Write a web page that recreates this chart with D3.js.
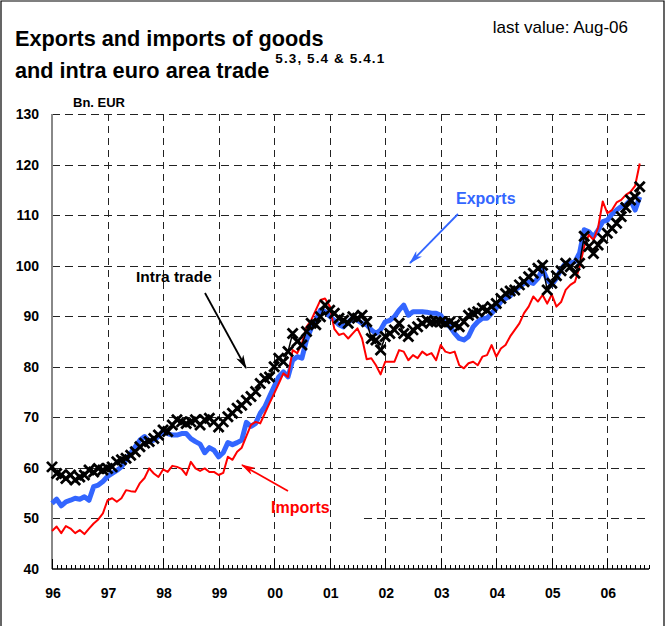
<!DOCTYPE html>
<html>
<head>
<meta charset="utf-8">
<script src="https://cdn.jsdelivr.net/npm/d3@7"></script>
<style>
  body { margin: 0; background: #fff; }
  text { font-family: Arial, 'Liberation Sans', sans-serif; }
</style>
</head>
<body>
<script>
// monthly values, Jan 1996 .. Aug 2006, Bn. EUR
const yearLabels = ['96', '97', '98', '99', '00', '01', '02', '03', '04', '05', '06']
const yTicks = [40, 50, 60, 70, 80, 90, 100, 110, 120, 130]

const exportsBn = [
  53.0, 53.8, 52.5, 53.3, 53.6, 54.0, 53.8, 54.3, 53.6, 56.3, 56.6, 57.3,
  58.3, 58.9, 59.5, 60.2, 61.6, 62.9, 64.2, 65.5, 66.2, 65.2, 65.5, 66.2,
  67.2, 66.8, 66.5, 66.5, 66.8, 66.8, 65.8, 65.2, 64.7, 63.0, 64.0, 63.5,
  62.2, 63.0, 65.0, 64.6, 65.0, 65.5, 69.0, 68.2, 68.8, 70.8, 72.1, 74.1,
  76.1, 78.0, 79.0, 78.0, 81.3, 82.0, 81.7, 85.3, 87.6, 89.2, 91.2, 90.9,
  90.0, 89.2, 88.3, 87.9, 88.8, 89.6, 89.2, 88.6, 88.3, 87.3, 86.6, 87.3,
  88.9, 89.2, 89.9, 91.2, 92.2, 90.2, 90.9, 90.9, 90.9, 90.8, 90.6, 90.6,
  90.2, 88.6, 87.9, 86.6, 85.6, 85.3, 86.0, 87.9, 88.9, 89.6, 89.6, 90.6,
  91.6, 92.9, 93.5, 94.0, 95.2, 95.8, 96.5, 96.8, 96.5, 97.5, 99.3, 97.2,
  96.2, 97.5, 99.3, 100.5, 100.5, 100.8, 102.5, 107.1, 106.7, 105.7, 107.0, 108.7,
  109.0, 110.2, 111.0, 111.7, 112.0, 113.0, 111.0, 113.6
]

const importsBn = [
  47.5, 48.4, 47.1, 48.5, 48.0, 47.1, 47.7, 46.9, 48.0, 49.0, 49.8, 51.0,
  53.6, 54.0, 53.3, 54.0, 55.6, 55.4, 55.3, 57.0, 58.0, 59.9, 58.9, 58.2,
  59.7, 59.2, 60.4, 60.2, 59.8, 58.6, 61.2, 59.9, 59.4, 59.9, 59.2, 59.2,
  58.6, 59.0, 62.2, 61.6, 63.2, 64.0, 66.3, 68.5, 69.1, 68.8, 70.8, 72.8,
  74.7, 76.7, 78.7, 78.0, 83.3, 82.7, 84.6, 87.9, 89.2, 91.2, 93.2, 93.5,
  92.0, 87.5, 86.3, 86.6, 85.6, 86.6, 87.6, 85.6, 81.5, 81.7, 80.3, 78.5,
  81.0, 81.0, 81.0, 83.3, 83.0, 81.3, 82.3, 81.7, 83.0, 82.3, 82.7, 81.3,
  84.3, 83.0, 82.7, 83.0, 80.3, 79.7, 80.7, 81.0, 80.3, 82.0, 82.3, 84.3,
  82.0, 83.6, 84.3, 86.0, 87.3, 88.6, 90.6, 91.9, 93.9, 92.9, 94.2, 92.5,
  94.3, 91.9, 92.8, 95.2, 96.2, 96.8, 99.8, 103.8, 106.1, 105.1, 107.5, 112.7,
  110.4, 111.0, 112.5, 113.0, 114.0, 114.6, 115.8, 120.2
]

const intraBn = [
  60.2, 58.9, 58.6, 57.9, 58.6, 57.6, 58.2, 58.6, 59.6, 59.2, 59.9, 59.6,
  59.9, 60.2, 61.2, 61.6, 61.9, 62.5, 63.2, 64.2, 64.9, 65.2, 65.8, 66.5,
  67.5, 67.2, 68.5, 69.5, 69.1, 68.8, 69.1, 69.5, 68.5, 69.5, 69.8, 69.1,
  68.1, 69.1, 70.1, 70.8, 71.8, 72.4, 73.4, 74.1, 75.1, 76.7, 77.7, 78.0,
  80.0, 81.7, 81.0, 83.0, 86.6, 85.0, 84.3, 87.0, 88.6, 88.3, 89.9, 92.2,
  91.2, 90.6, 89.6, 89.2, 88.6, 89.9, 89.6, 90.2, 88.9, 85.6, 85.3, 83.3,
  86.0, 86.6, 87.3, 88.6, 86.6, 86.0, 87.3, 87.9, 88.6, 89.2, 88.9, 88.9,
  88.9, 88.6, 88.9, 88.3, 87.9, 88.9, 90.2, 90.6, 90.9, 91.6, 91.2, 91.9,
  92.5, 93.5, 94.5, 95.0, 95.2, 96.2, 96.8, 97.8, 98.5, 99.5, 100.1, 95.2,
  96.5, 98.0, 99.0, 100.5, 99.8, 98.5, 100.5, 105.8, 103.8, 102.4, 104.1, 105.4,
  106.4, 107.4, 108.4, 109.7, 111.5, 113.0, 113.6, 115.6
]

const width = 667
const height = 626
const blue = '#3366ff'
const red = '#ff0000'

const svg = d3.select('body').append('svg')
  .attr('width', width)
  .attr('height', height)

// frame
svg.append('path')
  .attr('d', 'M1,' + height + 'V1H664V' + height)
  .attr('fill', 'none')
  .attr('stroke', '#000')
  .attr('stroke-width', 1.2)

const x = d3.scaleLinear().domain([0, 129]).range([52, 649])
const y = d3.scaleLinear().domain([40, 130]).range([569, 114])
const months = d3.range(0, 130)
const px = v => Math.round(v) + 0.5

// titles
svg.append('text').attr('x', 15).attr('y', 46)
  .attr('font-size', 21.7).attr('font-weight', 'bold')
  .text('Exports and imports of goods')
const t2 = svg.append('text').attr('x', 15).attr('y', 78)
  .attr('font-size', 21.7).attr('font-weight', 'bold')
t2.append('tspan').text('and intra euro area trade ')
t2.append('tspan').attr('dy', -15).attr('font-size', 13.5)
  .attr('letter-spacing', 1.1).text('5.3, 5.4 & 5.4.1')

svg.append('text').attr('x', 628).attr('y', 33)
  .attr('text-anchor', 'end').attr('font-size', 17)
  .text('last value: Aug-06')

svg.append('text').attr('x', 73).attr('y', 107)
  .attr('font-size', 13).attr('font-weight', 'bold')
  .text('Bn. EUR')

// horizontal grid
svg.append('g').selectAll('line')
  .data(yTicks.filter(d => d > 40))
  .join('line')
  .attr('x1', x(0)).attr('x2', 646)
  .attr('y1', d => px(y(d))).attr('y2', d => px(y(d)))
  .attr('stroke', '#222').attr('stroke-width', 1)
  .attr('stroke-dasharray', '8,5')

// the 50 line is cut behind the imports label
svg.append('rect')
  .attr('x', 240).attr('y', y(50) - 2)
  .attr('width', 122).attr('height', 4)
  .attr('fill', '#fff')

// vertical grid at each January
svg.append('g').selectAll('line')
  .data(yearLabels.slice(1))
  .join('line')
  .attr('x1', (d, i) => px(x((i + 1) * 12))).attr('x2', (d, i) => px(x((i + 1) * 12)))
  .attr('y1', y(130)).attr('y2', y(40))
  .attr('stroke', '#222').attr('stroke-width', 1)
  .attr('stroke-dasharray', '7,5')

// y axis
svg.append('line')
  .attr('x1', x(0)).attr('x2', x(0))
  .attr('y1', y(130)).attr('y2', y(40))
  .attr('stroke', '#888').attr('stroke-width', 2)

svg.append('g').selectAll('text')
  .data(yTicks)
  .join('text')
  .attr('x', 39).attr('y', d => y(d) + 5)
  .attr('text-anchor', 'end')
  .attr('font-size', 14).attr('font-weight', 'bold')
  .text(d => d)

// x axis with monthly ticks
svg.append('line')
  .attr('x1', x(0)).attr('x2', x(129))
  .attr('y1', y(40)).attr('y2', y(40))
  .attr('stroke', '#000').attr('stroke-width', 1.5)

svg.append('g').selectAll('line')
  .data(months)
  .join('line')
  .attr('x1', d => px(x(d))).attr('x2', d => px(x(d)))
  .attr('y1', y(40)).attr('y2', d => d % 12 === 0 ? y(40) - 10 : y(40) - 4)
  .attr('stroke', '#000').attr('stroke-width', 1)

svg.append('g').selectAll('text')
  .data(yearLabels)
  .join('text')
  .attr('x', (d, i) => x(i * 12) + 1).attr('y', 598)
  .attr('text-anchor', 'middle')
  .attr('font-size', 14).attr('font-weight', 'bold')
  .text(d => d)

// series
const line = d3.line()
  .x((d, i) => x(i))
  .y(d => y(d))

svg.append('path').datum(exportsBn)
  .attr('d', line)
  .attr('fill', 'none').attr('stroke', blue)
  .attr('stroke-width', 5).attr('stroke-linejoin', 'round')

svg.append('path').datum(importsBn)
  .attr('d', line)
  .attr('fill', 'none').attr('stroke', red)
  .attr('stroke-width', 2).attr('stroke-linejoin', 'round')

svg.append('path').datum(intraBn)
  .attr('d', line)
  .attr('fill', 'none').attr('stroke', '#000')
  .attr('stroke-width', 1.5)

svg.append('g').selectAll('path')
  .data(intraBn)
  .join('path')
  .attr('transform', (d, i) => 'translate(' + x(i) + ',' + y(d) + ')')
  .attr('d', 'M-5,-5L5,5M-5,5L5,-5')
  .attr('stroke', '#000').attr('stroke-width', 2.8)

// annotations
const defs = svg.append('defs')
;[['arrBlue', blue], ['arrRed', red], ['arrBlack', '#000']].forEach(function (a) {
  defs.append('marker')
    .attr('id', a[0])
    .attr('viewBox', '0 0 14 8')
    .attr('refX', 13).attr('refY', 4)
    .attr('markerWidth', 14).attr('markerHeight', 8)
    .attr('markerUnits', 'userSpaceOnUse')
    .attr('orient', 'auto')
    .append('path')
    .attr('d', 'M0,0L14,4L0,8L4,4Z')
    .attr('fill', a[1])
})

function note (label, color, marker, size, tx, ty, x1, y1, x2, y2) {
  svg.append('line')
    .attr('x1', x1).attr('y1', y1).attr('x2', x2).attr('y2', y2)
    .attr('stroke', color).attr('stroke-width', 1.8)
    .attr('marker-end', 'url(#' + marker + ')')
  svg.append('text')
    .attr('x', tx).attr('y', ty)
    .attr('font-size', size).attr('font-weight', 'bold')
    .attr('fill', color)
    .text(label)
}

note('Exports', blue, 'arrBlue', 16, 456, 204, 458, 214, 410, 263)
note('Intra trade', '#000', 'arrBlack', 15.5, 136, 282, 205, 293, 246, 368)
note('Imports', red, 'arrRed', 16, 271, 513, 288, 491, 242, 465)
</script>
</body>
</html>
